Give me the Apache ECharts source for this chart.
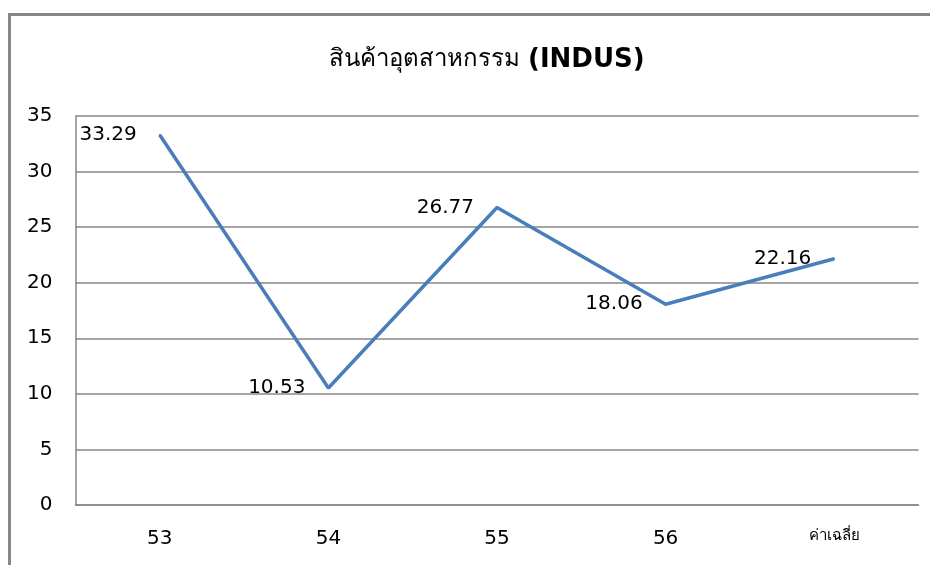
<!DOCTYPE html>
<html>
<head>
<meta charset="utf-8">
<script src="https://cdn.jsdelivr.net/npm/echarts@6/dist/echarts.min.js"></script>
<style>
  html, body { margin: 0; padding: 0; background: #fff; }
  #main { width: 930px; height: 565px; }
</style>
</head>
<body>
<div id="main"></div>
<script>
// ข้อมูล
var categories = ['53', '54', '55', '56', 'ค่าเฉลี่ย'];
var values = [33.29, 10.53, 26.77, 18.06, 22.16];
var yTicks = [0, 5, 10, 15, 20, 25, 30, 35];

var font = '"DejaVu Sans", Tahoma, "Noto Sans", sans-serif';

var myChart = echarts.init(document.getElementById('main'));
var option = {
  backgroundColor: '#fff',
  animation: false,
  title: {
    text: '{a|สินค้าอุตสาหกรรม }{b|(INDUS)}',
    left: 482,
    textAlign: 'center',
    top: 42,
    textStyle: {
      rich: {
        a: { fontFamily: font, fontSize: 24, fontWeight: 'normal', color: '#000' },
        b: { fontFamily: font, fontSize: 26, fontWeight: 'bold', color: '#000' }
      }
    }
  },
  // กรอบนอก
  graphic: [{
    type: 'polyline',
    shape: { points: [[9.5, 600], [9.5, 14.5], [960, 14.5]] },
    style: { fill: null, stroke: '#878787', lineWidth: 3 },
    silent: true
  }],
  grid: { left: 75.5, top: 116, right: 11.5, bottom: 60, containLabel: false },
  xAxis: {
    type: 'category',
    data: categories.map(function (c, i) {
      return i === categories.length - 1 ? { value: c, textStyle: { fontSize: 15 } } : c;
    }),
    boundaryGap: true,
    axisLine: { lineStyle: { color: '#878787', width: 1.5 } },
    axisTick: { show: false },
    axisLabel: { color: '#000', fontFamily: font, fontSize: 20, margin: 24 }
  },
  yAxis: {
    type: 'value',
    min: yTicks[0],
    max: yTicks[yTicks.length - 1],
    interval: 5,
    axisLine: { show: true, lineStyle: { color: '#878787', width: 1.5 } },
    axisTick: { show: false },
    axisLabel: { color: '#000', fontFamily: font, fontSize: 20, margin: 23 },
    splitLine: { lineStyle: { color: '#878787', width: 1.5 } }
  },
  series: [{
    type: 'line',
    data: values,
    symbol: 'circle',
    symbolSize: 2,
    showSymbol: true,
    itemStyle: { color: '#4a7ebb' },
    lineStyle: { color: '#4a7ebb', width: 3.5 },
    label: {
      show: true,
      position: 'left',
      distance: 22,
      offset: [0, 1],
      color: '#000',
      fontFamily: font,
      fontSize: 20,
      formatter: function (p) { return p.value.toFixed(2); }
    },
    labelLayout: { hideOverlap: false }
  }]
};
myChart.setOption(option);
</script>
</body>
</html>
